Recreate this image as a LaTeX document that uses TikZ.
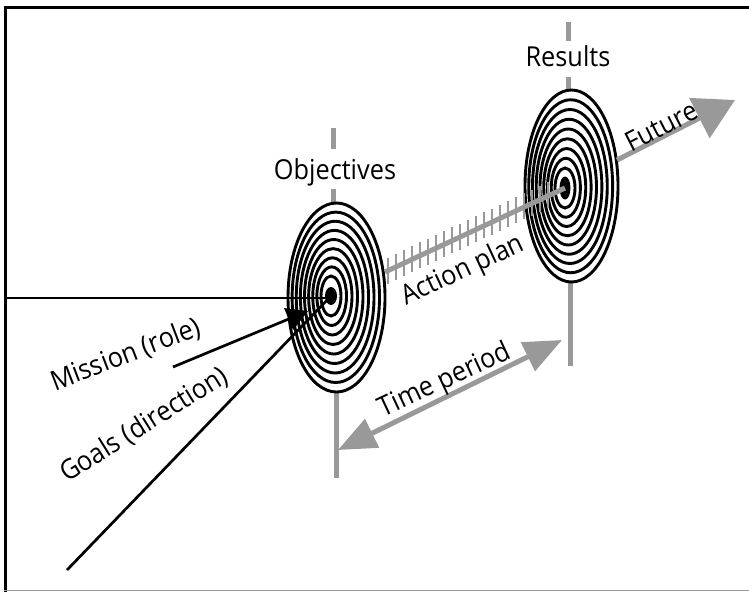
\documentclass[tikz,border=0pt]{standalone}
\usepackage{fontspec}
\setmainfont{Open Sans}[FakeStretch=0.92]
\usetikzlibrary{arrows.meta}
\definecolor{arrowgray}{RGB}{153,153,153}
\tikzset{
  ring/.style={draw=black, line width=2.9pt},
  grayline/.style={draw=arrowgray, line width=5pt},
  tickline/.style={draw=arrowgray, line width=2.8pt},
  blackline/.style={draw=black, line width=2.7pt},
  framebar/.style={draw=black, line width=3pt},
  lbl/.style={font=\fontsize{27.5}{32}\selectfont, inner sep=0pt, text=black},
}
% #1,#2 dot centre; #3,#4 outer centre; #5,#6 outer radii; #7,#8 dot radii
\newcommand{\drawtarget}[8]{%
  \foreach \k in {0,...,8} {
    \pgfmathsetmacro\tt{\k/8}
    \pgfmathsetmacro\ra{10+(#5-10)*\tt}
    \pgfmathsetmacro\rb{20+(#6-20)*\tt}
    \pgfmathsetmacro\cx{#1+(#3-#1)*\tt}
    \pgfmathsetmacro\cy{#2+(#4-#2)*\tt}
    \draw[ring] (\cx,\cy) ellipse [x radius=\ra, y radius=\rb];
  }
  \fill[black] (#1,#2) ellipse [x radius=#7, y radius=#8];
}
\begin{document}
\begin{tikzpicture}[x=1pt,y=-1pt]
\useasboundingbox (0,0) rectangle (749,592);
\fill[white] (0,0) rectangle (749,592);

% frame
\coordinate (tl) at (5.5,7.5);
\coordinate (tr) at (749,7.5);
\coordinate (bl) at (5.5,592);
\coordinate (bl2) at (4,590.5);
\coordinate (br2) at (749,590.5);
\draw[framebar] (tr) -- (tl) -- (bl);
\draw[draw=arrowgray, line width=1.2pt] (bl2) -- (br2);

% key points
\coordinate (dotL) at (331,296);
\coordinate (dotR) at (565,188);

% gray guide lines
\coordinate (objA) at (333,128);
\coordinate (objB) at (333,149);
\coordinate (objC) at (333,189);
\coordinate (objD) at (333,202);
\coordinate (objE) at (336,391);
\coordinate (objF) at (336,478);
\draw[grayline] (objA) -- (objB);
\draw[grayline] (objC) -- (objD);
\draw[grayline] (objE) -- (objF);

\coordinate (resA) at (568,22);
\coordinate (resB) at (568,41);
\coordinate (resC) at (568,77);
\coordinate (resD) at (568,90);
\coordinate (resE) at (570,281);
\coordinate (resF) at (570,366);
\draw[grayline] (resA) -- (resB);
\draw[grayline] (resC) -- (resD);
\draw[grayline] (resE) -- (resF);

% targets
\drawtarget{331}{296}{336.5}{297.5}{48.5}{94.5}{6}{9}
\drawtarget{565}{188}{571.5}{186}{46.5}{96}{5.5}{11.5}

% action plan
\coordinate (apA) at (385,272);
\draw[grayline] (apA) -- (dotR);
\foreach \i in {0,...,20} {
  \pgfmathsetmacro\xx{388+8*\i}
  \pgfmathsetmacro\yy{272-(\xx-385)*84/178}
  \draw[tickline] (\xx,\yy-13) -- (\xx,\yy+13);
}

% future
\coordinate (fuA) at (617,160);
\coordinate (fuB) at (735,100);
\draw[grayline, -{Triangle[length=40pt,width=44pt]}] (fuA) -- (fuB);

% time period
\coordinate (tpA) at (338,450);
\coordinate (tpB) at (562,340);
\draw[grayline, {Triangle[length=38pt,width=31pt]}-{Triangle[length=38pt,width=31pt]}] (tpA) -- (tpB);

% black lines
\coordinate (roleL) at (5.5,298);
\coordinate (roleR) at (331,298);
\draw[blackline] (roleL) -- (roleR);
\coordinate (misA) at (173,367);
\coordinate (misB) at (308,311);
\draw[blackline, -{Triangle[length=21pt,width=23pt]}] (misA) -- (misB);
\coordinate (golA) at (67,570);
\draw[blackline] (golA) -- (dotL);

% labels
\node[lbl] (objectives) at (335,172) {Objectives};
\node[lbl] (results) at (568,56) {Results};
\node[lbl, rotate=25] (actionplan) at (463,271) {Action plan};
\node[lbl, rotate=27] (future) at (661,126) {Future};
\node[lbl, rotate=25] (timeperiod) at (445,381) {Time period};
\node[lbl, rotate=21] (mission) at (126,355) {Mission (role)};
\node[lbl, rotate=32] (goals) at (144,425) {Goals (direction)};
\end{tikzpicture}
\end{document}
